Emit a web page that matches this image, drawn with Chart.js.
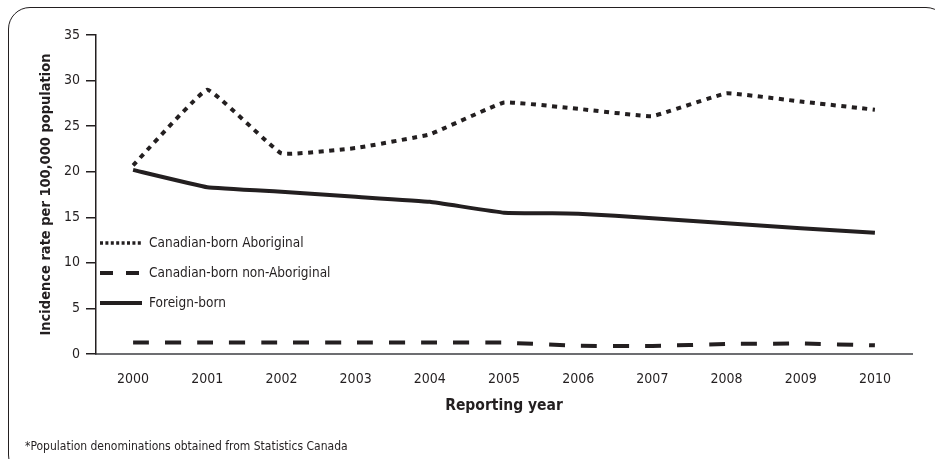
<!DOCTYPE html>
<html>
<head>
<meta charset="utf-8">
<script src="https://cdn.jsdelivr.net/npm/chart.js@4"></script>
<style>
  html, body { margin: 0; padding: 0; background: #fff; overflow: hidden; }
  #wrap { position: relative; width: 935px; height: 459px; }
  #frame { position: absolute; left: 8px; top: 7px; width: 940px; height: 470px;
           border: 1.5px solid #231f20; border-radius: 22px; box-sizing: border-box; }
  #chart1 { position: absolute; left: 0; top: 0; }
</style>
</head>
<body>
<div id="wrap">
  <div id="frame"></div>
  <canvas id="chart1" width="935" height="459"></canvas>
</div>
<script>
// data
let years = ['2000','2001','2002','2003','2004','2005','2006','2007','2008','2009','2010'];
let aboriginal = [20.7, 29.0, 22.0, 22.6, 24.1, 27.6, 26.9, 26.1, 28.6, 27.7, 26.8];
let nonAboriginal = [1.25, 1.25, 1.25, 1.25, 1.25, 1.25, 0.9, 0.88, 1.1, 1.15, 0.95];
let foreignBorn = [20.2, 18.3, 17.8, 17.25, 16.7, 15.5, 15.4, 14.9, 14.35, 13.8, 13.3];
let yTicks = [0, 5, 10, 15, 20, 25, 30, 35];

const ink = '#231f20';
const fam = "'Liberation Sans Narrow', 'DejaVu Sans Condensed', sans-serif";

// legend sits inside the plot, so draw it by hand
const legendItems = [
  { text: 'Canadian-born Aboriginal', dash: [3, 2.4], width: 3.5 },
  { text: 'Canadian-born non-Aboriginal', dash: [13, 13], width: 4 },
  { text: 'Foreign-born', dash: [], width: 4 }
];

const extras = {
  id: 'extras',
  afterDraw(chart) {
    const ctx = chart.ctx;
    const a = chart.chartArea;
    ctx.save();
    ctx.font = '13.5px ' + fam;
    ctx.textBaseline = 'middle';
    legendItems.forEach(function (it, i) {
      let y = a.top + 208 + i * 30;
      ctx.strokeStyle = ink;
      ctx.lineWidth = it.width;
      ctx.setLineDash(it.dash);
      ctx.beginPath();
      ctx.moveTo(a.left + 4, y);
      ctx.lineTo(a.left + 46, y);
      ctx.stroke();
      ctx.setLineDash([]);
      ctx.fillStyle = ink;
      ctx.fillText(it.text, a.left + 53, y);
    });
    // footnote
    ctx.font = '12px ' + fam;
    ctx.fillText('*Population denominations obtained from Statistics Canada', 25, 447);
    ctx.restore();
  }
};

const data = {
  labels: years,
  datasets: [
    { label: 'Canadian-born Aboriginal', data: aboriginal, borderColor: ink, borderWidth: 4, borderDash: [5, 5.5] },
    { label: 'Canadian-born non-Aboriginal', data: nonAboriginal, borderColor: ink, borderWidth: 4, borderDash: [16, 16] },
    { label: 'Foreign-born', data: foreignBorn, borderColor: ink, borderWidth: 4 }
  ]
};

const config = {
  type: 'line',
  data: data,
  options: {
    responsive: false,
    animation: false,
    layout: { padding: { left: 0, right: 23, top: 35, bottom: 0 } },
    elements: {
      point: { radius: 0 },
      line: { tension: 0.08, fill: false, borderCapStyle: 'butt' }
    },
    plugins: { legend: { display: false }, tooltip: { enabled: false } },
    scales: {
      x: {
        offset: true,
        grid: { display: false, drawTicks: false },
        border: { display: true, color: '#6d6e71', width: 2 },
        ticks: { color: ink, font: { family: fam, size: 14 }, padding: 17, maxRotation: 0 },
        title: { display: true, text: 'Reporting year', color: ink,
                 font: { family: fam, size: 15.5, weight: 'bold' }, padding: { top: 0, bottom: 44 } },
        afterFit(scale) { scale.height = 105; }
      },
      y: {
        min: 0, max: 35,
        afterBuildTicks(scale) { scale.ticks = yTicks.map(v => ({ value: v })); },
        grid: { drawOnChartArea: false, drawTicks: true, tickLength: 10, color: ink, lineWidth: 1.5 },
        border: { display: true, color: ink, width: 1.5 },
        ticks: { color: ink, font: { family: fam, size: 14 }, padding: 6 },
        title: { display: true, text: 'Incidence rate per 100,000 population', color: ink,
                 font: { family: fam, size: 14.5, weight: 'bold' }, padding: { top: 38, bottom: 0 } },
        afterFit(scale) { scale.width = 96; }
      }
    }
  },
  plugins: [extras]
};

const myChart = new Chart(document.getElementById('chart1'), config);
</script>
</body>
</html>
